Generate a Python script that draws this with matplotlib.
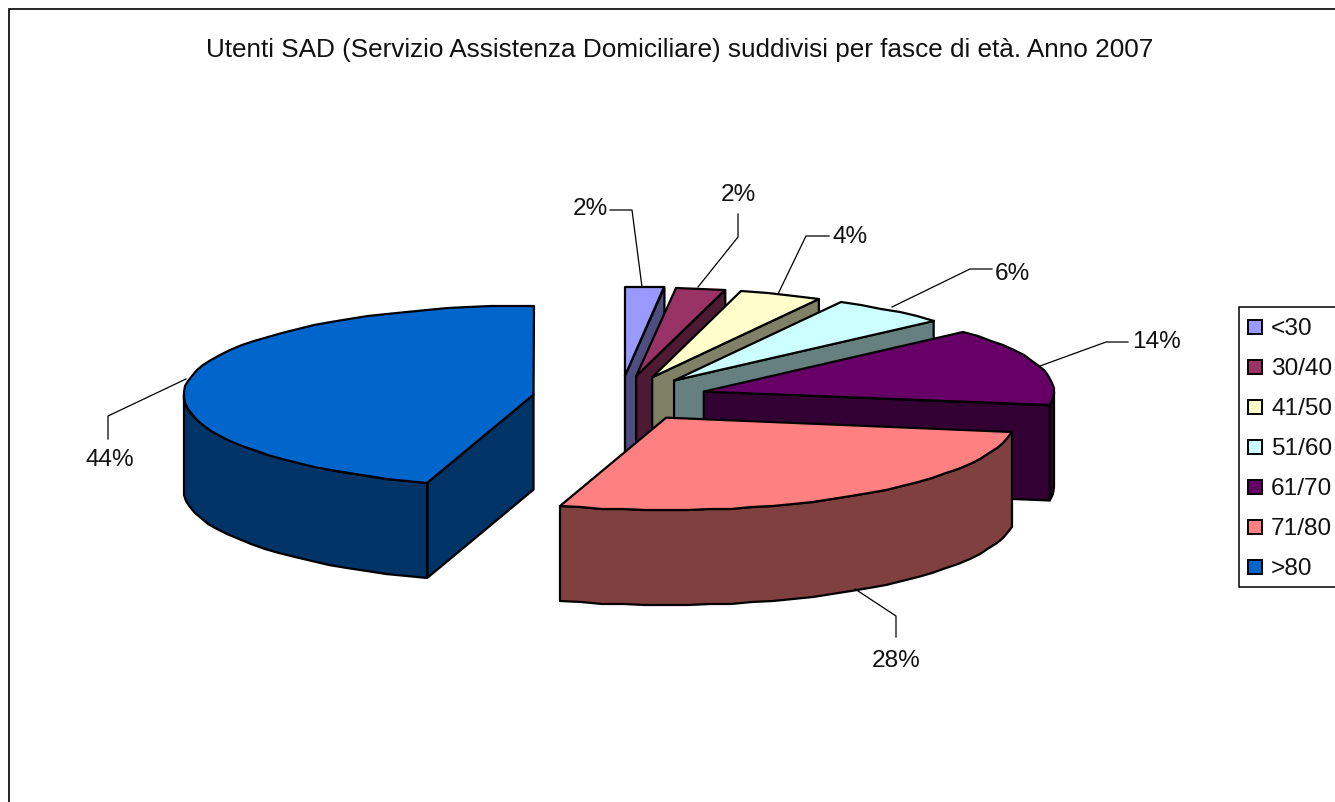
# Utenti SAD per fascia di eta, torta 3D esplosa
import numpy as np
import matplotlib
matplotlib.use('Agg')
import matplotlib.pyplot as plt
from matplotlib.patches import Polygon, Rectangle

# data
fasce = ['<30', '30/40', '41/50', '51/60', '61/70', '71/80', '>80']
quote = [1.8, 2.3, 3.8, 5.4, 14.1, 27.5, 45.1]  # share of the circle
etichette = ['2%', '2%', '4%', '6%', '14%', '28%', '44%']
colori = ['#9999FF', '#993366', '#FFFFCC', '#CCFFFF', '#660066', '#FF8080', '#0066CC']
scuri = ['#4D4D80', '#4D1A33', '#808066', '#668080', '#330033', '#804040', '#003366']

# layout in pixels
W, H = 1335, 803
cx, cy = 620, 399
rx, ry, ry_fronte = 350, 89, 92.5
spessore = 95
esplosione = 0.25
pos_etichette = [(590, 209), (738, 195), (850, 237), (1012, 274), (1156, 342), (896, 661), (110, 460)]
gomiti = [[(610, 211), (632, 211)], [(738, 215), (738, 238)], [(829, 237), (806, 237)],
          [(992, 270), (970, 270)], [(1128, 343), (1106, 343)], [(896, 638), (896, 617)],
          [(108, 440), (108, 417)]]
arr_leader = [(642, 288), (698, 288), (778, 295), (892, 308), (1040, 367), (855, 590), (186, 380)]

plt.rcParams['font.family'] = ['Liberation Sans', 'DejaVu Sans']
fig = plt.figure(figsize=(W / 100, H / 100), dpi=100)
ax = fig.add_axes([0, 0, 1, 1])
ax.set_xlim(0, W)
ax.set_ylim(H, 0)
ax.axis('off')


def punto(ox, oy, ang, r=1.0):
    a = np.radians(ang)
    c = np.cos(a)
    return ox + r * rx * np.sin(a), oy - r * (ry if c > 0 else ry_fronte) * c


def arco(ox, oy, a0, a1):
    n = max(2, int((a1 - a0) / 3.5) + 1)
    return [tuple(np.round(punto(ox, oy, a))) for a in np.linspace(a0, a1, n)]


def faccia(pts, col, z):
    ax.add_patch(Polygon(pts, closed=True, fc=col, ec='black', lw=1.6, joinstyle='round', zorder=z))


# chart frame
ax.add_patch(Rectangle((8.5, 9.5), W, H, fc='white', ec='black', lw=1.2, zorder=0))

fine = np.cumsum(quote) / np.sum(quote) * 360
inizio = np.concatenate([[0], fine[:-1]])

for i in range(len(fasce)):
    a0, a1 = inizio[i], fine[i]
    mid = (a0 + a1) / 2
    ox, oy = punto(cx, cy, mid, esplosione)
    z = 2 + i * 4

    # cut faces, only the ones turned to the viewer
    if np.sin(np.radians(a1)) > 0.001:
        p = punto(ox, oy, a1)
        faccia([(ox, oy), p, (p[0], p[1] + spessore), (ox, oy + spessore)], scuri[i], z)
    if np.sin(np.radians(a0)) < -0.001:
        p = punto(ox, oy, a0)
        faccia([(ox, oy), p, (p[0], p[1] + spessore), (ox, oy + spessore)], scuri[i], z)

    # outer wall for the front half
    w0, w1 = max(a0, 90), min(a1, 270)
    if w1 > w0:
        sopra = arco(ox, oy, w0, w1)
        sotto = [(x, y + spessore) for x, y in reversed(sopra)]
        faccia(sopra + sotto, scuri[i], z + 1)

    # top
    faccia([(ox, oy)] + arco(ox, oy, a0, a1), colori[i], z + 2)

    # label and leader
    xs = [g[0] for g in gomiti[i]] + [arr_leader[i][0]]
    ys = [g[1] for g in gomiti[i]] + [arr_leader[i][1]]
    ax.plot(xs, ys, color='black', lw=0.9, zorder=60)
    ax.text(*pos_etichette[i], etichette[i], fontsize=17.6, ha='center', va='center', color='#111111', zorder=61)

ax.text(680, 50, 'Utenti SAD (Servizio Assistenza Domiciliare) suddivisi per fasce di età. Anno 2007',
        fontsize=18.8, ha='center', va='center', color='#111111')

# legend
ax.add_patch(Rectangle((1238.5, 307.5), W, 280.5, fc='white', ec='black', lw=1.1, zorder=70))
for i, nome in enumerate(fasce):
    y = 328 + 40 * i
    ax.add_patch(Rectangle((1248, y - 7), 14, 14, fc=colori[i], ec='black', lw=1.4, zorder=71))
    ax.text(1271, y + 1, nome, fontsize=17.6, ha='left', va='center', color='#111111', zorder=71)

fig.savefig('out.png', dpi=100)
